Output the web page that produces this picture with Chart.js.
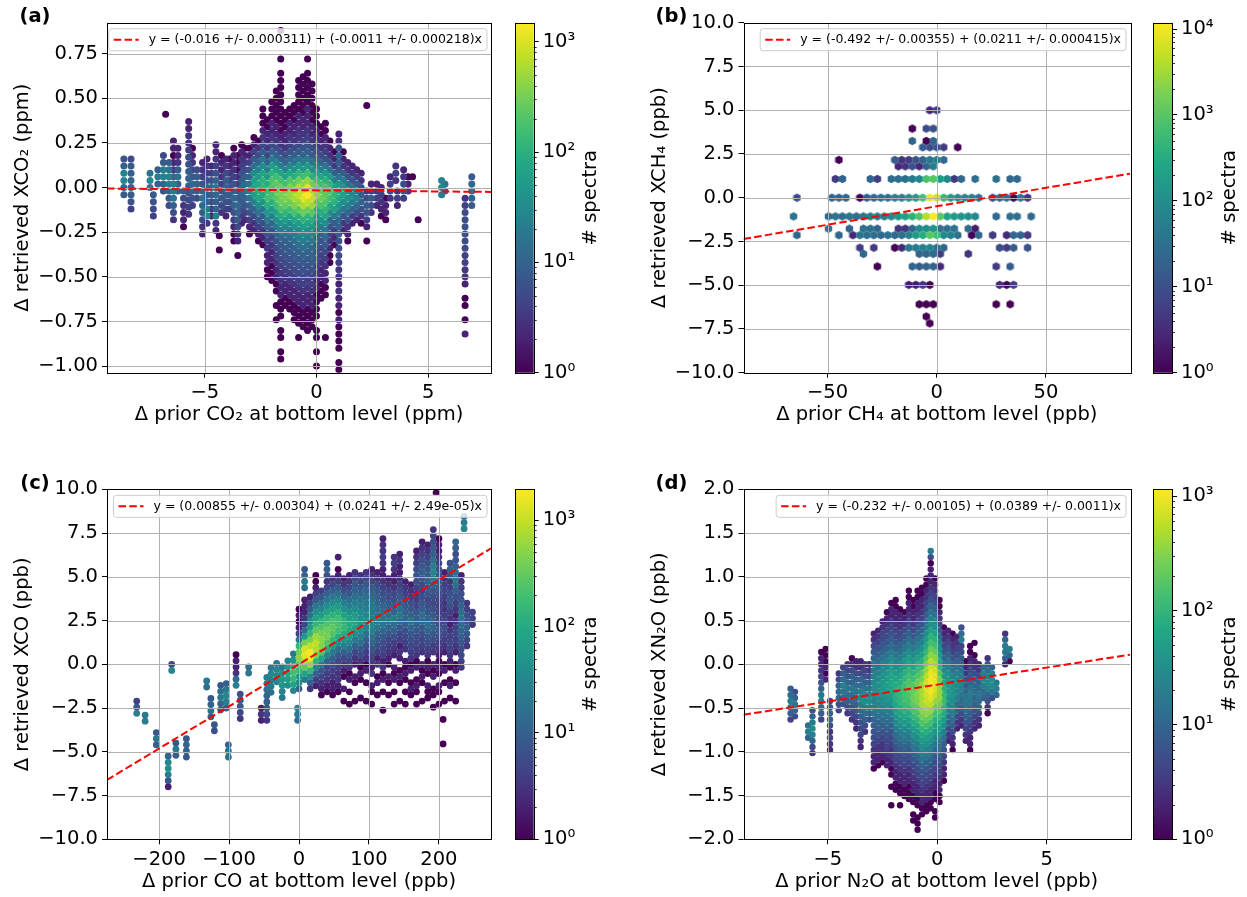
<!DOCTYPE html>
<html>
<head>
<meta charset="utf-8">
<script src="https://cdn.jsdelivr.net/npm/chart.js@4.4.0/dist/chart.umd.min.js"></script>
<style>
  body { margin: 0; background: #fff; width: 1247px; height: 897px; position: relative; overflow: hidden; }
  canvas { position: absolute; }
</style>
</head>
<body>
<script>
// ---- hexbin cells: [x, yStart, counts going up in steps] ----
const co2Step = 0.04;
const co2Columns = [
  [-8.62, -0.04, [8, 12, 30, 25, 10, 6]],
  [-8.30, -0.12, [4, 6, 8, 10, 12, 10, 8, 5]],
  [-7.45, 0.00, [20, 30, 15]],
  [-7.30, -0.16, [4, 5, 6, 8]],
  [-7.10, 0.02, [10, 20, 8]],
  [-6.85, -0.02, [6, 10, 25, 20, 8, 5]],
  [-6.75, 0.41, [1]],
  [-6.60, -0.10, [5, 8, 10, 20, 25, 15, 8]],
  [-6.40, -0.18, [3, 5, 10, 15, 20, 25, 10, 3, 2, 1, 2, 2]],
  [-6.20, -0.02, [8, 10, 15, 8, 3, 2, 2]],
  [-5.95, -0.22, [1, 2, 2, 3, 5, 8]],
  [-5.72, -0.15, [3, 4, 5, 6, 8, 10, 8, 6, 5, 4, 3, 3, 2, 2]],
  [-5.55, -0.10, [4, 6, 10, 12, 8, 5, 3, 2, 1]],
  [-5.35, -0.06, [5, 8, 10, 8, 5]],
  [-5.10, -0.26, [2, 3, 5, 8, 12, 15, 10, 6, 4, 3, 2]],
  [-4.90, -0.20, [3, 30, 20, 10, 8, 10, 6, 4, 3, 2]],
  [-4.70, -0.16, [2, 3, 5, 8, 10, 6, 4, 2]],
  [-4.50, -0.24, [2, 3, 25, 10, 8, 12, 15, 10, 6, 4, 3, 2, 2]],
  [-4.35, -0.35, [1, 0, 1]],
  [-4.25, -0.14, [3, 5, 8, 6, 4, 3, 2, 2, 1]],
  [-4.05, -0.16, [2, 4, 6, 8, 10, 8, 5, 3, 2]],
  [-3.90, -0.12, [3, 5, 8, 6, 4, 3, 2, 1]],
  [-3.70, -0.30, [1, 1, 2, 4, 6, 10, 12, 10, 6, 4, 3, 2, 2, 1]],
  [-3.52, -0.38, [1, 0, 2, 3, 5, 8, 10, 12, 8, 5, 3, 2, 1, 1, 1]],
  [-3.35, -0.20, [2, 3, 5, 8, 10, 12, 8, 6, 4, 3, 2, 1]],
  [-3.20, -0.18, [2, 4, 6, 10, 14, 12, 8, 5, 3, 2, 1]],
  [-3.00, -0.26, [1, 2, 4, 6, 10, 15, 20, 15, 10, 6, 4, 2, 1]],
  [-2.80, -0.24, [2, 3, 5, 10, 25, 50, 80, 60, 35, 15, 8, 4, 2, 1]],
  [-2.60, -0.30, [1, 2, 4, 8, 15, 35, 70, 100, 80, 50, 25, 10, 5, 3, 1]],
  [-2.40, -0.32, [1, 2, 3, 5, 8, 15, 40, 80, 130, 110, 70, 35, 15, 8, 5, 3, 2, 1, 1, 1]],
  [-2.20, -0.50, [1, 1, 2, 2, 3, 4, 6, 10, 20, 50, 100, 160, 140, 90, 45, 20, 8, 4, 3, 2, 2, 1, 1]],
  [-2.00, -0.52, [1, 1, 1, 2, 2, 3, 4, 6, 10, 20, 45, 100, 170, 200, 180, 110, 55, 20, 10, 5, 3, 2, 2, 1, 1, 1]],
  [-1.80, -0.74, [1, 0, 1, 0, 1, 1, 2, 2, 3, 4, 5, 6, 10, 18, 35, 70, 140, 220, 260, 230, 150, 70, 28, 10, 5, 3, 2, 2, 1, 1, 1, 1, 1]],
  [-1.60, -0.96, [1, 1, 0, 1, 1, 0, 1, 1, 1, 2, 2, 3, 3, 4, 5, 6, 8, 12, 20, 40, 90, 180, 280, 330, 280, 170, 70, 25, 10, 5, 3, 2, 1, 1, 1, 1, 1, 1, 1, 1, 1, 0, 1, 0, 0, 0, 1]],
  [-1.40, -0.66, [1, 1, 2, 2, 3, 4, 5, 6, 8, 10, 15, 30, 60, 120, 250, 350, 300, 150, 60, 25, 10, 5, 3, 2, 2, 1, 1, 1]],
  [-1.20, -0.68, [1, 1, 2, 2, 3, 4, 5, 6, 8, 10, 12, 20, 35, 70, 150, 300, 450, 380, 200, 80, 30, 12, 6, 4, 3, 2, 2, 1, 1]],
  [-1.00, -0.74, [1, 1, 1, 2, 2, 3, 4, 5, 6, 8, 10, 14, 20, 40, 80, 180, 350, 550, 480, 250, 100, 40, 15, 8, 5, 3, 2, 2, 1, 1, 1]],
  [-0.80, -0.84, [1, 0, 1, 1, 1, 2, 2, 3, 4, 5, 6, 8, 10, 14, 20, 30, 50, 100, 220, 450, 700, 600, 300, 120, 45, 18, 8, 5, 3, 3, 2, 2, 1, 1, 1, 1, 1]],
  [-0.60, -0.78, [1, 1, 1, 2, 2, 3, 4, 5, 6, 8, 10, 14, 20, 35, 60, 120, 280, 600, 1000, 800, 400, 150, 50, 20, 10, 6, 4, 3, 2, 2, 1, 1, 1, 1, 1, 1]],
  [-0.40, -0.80, [1, 1, 1, 1, 2, 2, 3, 4, 5, 6, 8, 10, 14, 20, 35, 60, 120, 300, 700, 1450, 1000, 450, 150, 50, 20, 10, 6, 4, 3, 2, 2, 2, 1, 1, 1, 1, 1, 0, 1]],
  [-0.20, -0.78, [1, 1, 1, 2, 2, 3, 4, 5, 6, 8, 10, 12, 18, 30, 50, 100, 220, 500, 800, 600, 280, 100, 35, 15, 8, 5, 3, 2, 2, 1, 1, 1, 1, 1, 1]],
  [0.00, -1.00, [1, 0, 1, 0, 1, 1, 0, 1, 1, 1, 1, 2, 2, 3, 4, 5, 6, 8, 10, 15, 25, 45, 90, 200, 400, 300, 150, 60, 25, 12, 6, 4, 3, 2, 1, 1, 1]],
  [0.20, -0.62, [1, 1, 1, 2, 2, 3, 4, 5, 6, 10, 20, 40, 90, 180, 300, 260, 150, 70, 25, 10, 5, 3, 2, 1, 1]],
  [0.40, -0.84, [1, 0, 0, 0, 0, 0, 1, 1, 2, 2, 3, 4, 5, 8, 12, 20, 35, 70, 130, 200, 250, 200, 110, 45, 15, 6, 4, 3, 2, 1, 1]],
  [0.60, -0.42, [1, 1, 2, 3, 4, 6, 12, 30, 80, 150, 180, 120, 50, 15, 6, 3, 2, 1]],
  [0.80, -0.32, [1, 2, 4, 8, 20, 60, 110, 120, 60, 20, 8, 3, 2, 1]],
  [1.00, -1.02, [1, 1, 0, 1, 1, 1, 1, 2, 1, 2, 2, 3, 2, 3, 3, 4, 5, 5, 6, 8, 10, 12, 20, 40, 70, 80, 45, 15, 6, 8, 10, 6, 3, 2]],
  [1.20, -0.24, [2, 3, 6, 15, 35, 60, 45, 20, 8, 3, 2, 1]],
  [1.40, -0.30, [1, 2, 3, 6, 12, 25, 40, 30, 15, 6, 3, 2]],
  [1.60, -0.20, [2, 4, 10, 20, 30, 15, 6, 3, 2]],
  [1.80, -0.18, [2, 5, 12, 25, 15, 8, 4, 2]],
  [2.00, -0.20, [1, 3, 6, 10, 8, 5, 3, 2]],
  [2.25, -0.30, [1, 0, 2, 4, 6, 8, 5, 3]],
  [2.25, 0.46, [1]],
  [2.45, -0.14, [3, 5, 8, 4, 2]],
  [2.70, -0.10, [2, 4, 3, 2]],
  [2.90, -0.16, [1, 2, 3, 4, 2]],
  [3.10, -0.18, [1, 2, 2, 1]],
  [3.30, -0.06, [3, 5, 4, 2]],
  [3.55, 0.04, [3, 4, 3]],
  [3.62, -0.10, [2, 4, 3]],
  [3.90, -0.06, [4, 8, 5, 3, 2]],
  [4.10, -0.02, [3, 2, 1]],
  [4.30, 0.06, [1]],
  [4.55, -0.18, [1]],
  [5.60, -0.04, [20, 30, 25]],
  [5.75, -0.02, [10, 15]],
  [6.65, -0.82, [2, 0, 1, 0, 1, 1, 0, 2, 3, 3, 4, 4, 5, 5, 6, 6, 5, 5, 4, 3]],
  [6.95, -0.10, [8, 10, 15, 12, 8]]
];

// CH4 cells by row: [y, xStart, counts going right in steps]
const ch4Step = 3.2;
const ch4Rows = [
  [5.0, -3.2, [3, 5]],
  [3.95, -11.2, [1, 0, 8, 10]],
  [3.24, -11.2, [20, 0, 1, 20]],
  [2.88, -6.4, [15, 8, 12, 5, 0, 1]],
  [2.16, -44.8, [1, 0, 0, 0, 0, 0, 0, 0, 15, 4, 5, 10, 20, 40, 50, 25]],
  [1.79, -17.6, [3, 4, 10, 3, 20, 50]],
  [1.07, -46.4, [5, 20, 0, 0, 0, 20, 5, 0, 30, 30, 30, 50, 80, 800, 1000, 150, 80, 4, 25, 0, 30, 0, 0, 30, 0, 25, 25]],
  [0.0, -64.0, [8, 0, 0, 0, 0, 20, 20, 20, 0, 1, 15, 25, 30, 35, 60, 60, 120, 150, 700, 9000, 6000, 500, 150, 100, 80, 60, 40, 0, 8, 25, 30, 1, 40, 4]],
  [-1.07, -65.6, [40, 0, 0, 0, 0, 25, 40, 30, 40, 30, 40, 45, 50, 60, 80, 130, 200, 400, 900, 4000, 11800, 1000, 200, 150, 120, 100, 80, 0, 0, 25, 0, 30, 30, 0, 25]],
  [-1.77, -49.6, [40, 0, 0, 20, 0, 30, 30, 20, 0, 0, 4, 4, 25, 80, 100, 110, 30, 30, 35, 0, 30, 2]],
  [-2.14, -64.0, [20, 0, 0, 0, 0, 0, 20, 0, 3, 40, 30, 30, 25, 30, 25, 30, 60, 150, 300, 1000, 600, 80, 60, 30, 0, 1, 25, 0, 5, 0, 3, 25, 20, 5]],
  [-2.86, -35.2, [5, 0, 5, 0, 0, 1, 3, 40, 50, 60, 60, 30, 20, 0, 0, 0, 0, 0, 0, 0, 8, 5, 15, 0, 10]],
  [-3.21, -33.6, [25, 0, 0, 0, 0, 0, 0, 0, 20, 20, 25, 5, 0, 0, 0, 4]],
  [-3.93, -27.2, [1, 0, 0, 0, 0, 20, 15, 20, 20, 3, 0, 0, 0, 0, 0, 0, 0, 5, 0, 15]],
  [-4.98, -12.8, [2, 2, 4, 1, 0, 0, 0, 0, 0, 0, 0, 0, 0, 3, 1, 5]],
  [-6.09, -8.0, [1, 1, 1, 0, 0, 0, 0, 0, 0, 0, 0, 1, 0, 1]],
  [-6.79, -4.8, [1]],
  [-7.18, -3.2, [1]]
];

const coStep = 0.35;
const coColumns = [
  [-232, -2.8, [25, 8, 4]],
  [-220, -3.25, [25, 20]],
  [-204, -4.6, [10, 20, 8]],
  [-187, -7.0, [2, 8, 25, 40, 30, 12]],
  [-182, -0.35, [30, 5]],
  [-176, -5.2, [10, 20, 8]],
  [-161, -5.3, [8, 10, 12, 8]],
  [-132, -1.3, [15, 20]],
  [-126, -3.0, [10, 15, 12, 8]],
  [-121, -3.8, [6, 8]],
  [-112, -2.6, [6, 12, 20, 15, 8]],
  [-104, -2.5, [8, 25, 30, 20, 10]],
  [-101, -5.3, [15, 20, 10]],
  [-90, -1.2, [25, 15, 3, 2, 2, 1]],
  [-84, -3.1, [3, 5, 8, 10, 6]],
  [-72, -0.5, [20, 15]],
  [-54, -3.2, [2, 3, 2]],
  [-46, -3.2, [3, 5, 8, 10, 12, 15, 20, 25]],
  [-40, -1.6, [15, 20, 25, 30, 20]],
  [-32, -1.0, [30, 40, 30, 20]],
  [-24, -1.9, [20, 30, 50, 60, 40, 20]],
  [-16, -1.2, [40, 70, 90, 60, 30]],
  [-8, -1.5, [30, 80, 150, 200, 120, 50, 20]],
  [-2, -3.2, [15, 20, 30]],
  [0, -1.4, [10, 30, 60, 150, 300, 500, 400, 150, 20, 4, 2, 1, 2, 1]],
  [8, -0.875, [20, 80, 300, 800, 1500, 1200, 400, 60, 15, 5, 3, 2, 2, 2, 0, 15, 20, 12, 8]],
  [16, -1.4, [3, 10, 30, 150, 600, 1500, 1900, 900, 400, 150, 60, 30, 15, 8, 4, 2]],
  [24, -1.225, [2, 4, 10, 30, 120, 400, 800, 900, 600, 300, 150, 80, 40, 20, 8, 4, 2, 1, 1]],
  [32, -1.75, [1, 2, 3, 5, 8, 20, 80, 250, 450, 500, 400, 250, 120, 60, 30, 15, 8, 4]],
  [40, -1.575, [1, 2, 3, 4, 5, 10, 30, 100, 250, 400, 350, 250, 150, 80, 40, 20, 10, 5, 3, 6, 10, 8]],
  [48, -1.75, [1, 2, 2, 3, 4, 6, 10, 20, 60, 150, 250, 300, 220, 130, 70, 35, 18, 10, 5, 3]],
  [56, -1.575, [1, 2, 3, 3, 4, 5, 8, 15, 40, 100, 180, 220, 180, 110, 60, 30, 15, 8, 4, 2, 1, 0, 2]],
  [64, -2.1, [1, 0, 2, 0, 1, 2, 3, 5, 10, 25, 50, 100, 150, 130, 80, 45, 25, 12, 6, 3, 2]],
  [72, -2.275, [1, 0, 1, 0, 2, 1, 3, 5, 8, 15, 30, 60, 90, 100, 70, 45, 25, 15, 8, 5, 3, 2]],
  [80, -2.1, [1, 0, 0, 1, 2, 0, 2, 3, 5, 10, 20, 40, 70, 80, 60, 40, 25, 15, 10, 8, 5, 3]],
  [88, -2.275, [0, 1, 0, 0, 1, 2, 1, 3, 5, 8, 15, 25, 40, 50, 45, 35, 25, 18, 12, 8, 5, 3]],
  [96, -2.1, [1, 0, 0, 1, 0, 2, 1, 3, 4, 6, 10, 15, 25, 35, 30, 25, 20, 15, 12, 8, 5, 3]],
  [104, -2.275, [1, 0, 1, 2, 0, 3, 2, 4, 5, 8, 12, 15, 25, 30, 25, 20, 18, 15, 12, 8, 5, 3, 2]],
  [112, -2.1, [0, 1, 0, 2, 1, 0, 3, 2, 4, 6, 8, 12, 18, 25, 20, 15, 12, 10, 8, 5, 3, 2]],
  [120, -2.625, [1, 0, 0, 1, 0, 2, 1, 3, 2, 4, 5, 6, 8, 12, 20, 18, 15, 12, 8, 6, 4, 3, 2, 2, 3, 4, 3, 3, 2]],
  [128, -2.1, [0, 1, 0, 1, 2, 0, 1, 2, 3, 4, 5, 8, 12, 18, 15, 10, 8, 6, 5, 3, 2]],
  [136, -2.275, [1, 0, 1, 0, 2, 1, 2, 0, 2, 3, 4, 6, 10, 15, 20, 12, 8, 6, 5, 3, 2, 2, 3, 4, 3]],
  [144, -2.1, [1, 0, 0, 1, 2, 1, 0, 2, 3, 2, 4, 5, 8, 12, 20, 15, 10, 8, 6, 4, 3, 2, 2, 3, 2]],
  [152, -2.275, [1, 0, 1, 0, 1, 2, 1, 2, 0, 3, 4, 5, 6, 10, 12, 10, 8, 6, 4, 3, 2]],
  [160, -2.1, [0, 1, 2, 1, 0, 2, 1, 3, 4, 5, 6, 8, 12, 15, 10, 8, 6, 4, 3, 2]],
  [168, -2.275, [1, 0, 1, 2, 1, 0, 2, 1, 3, 4, 5, 6, 8, 12, 10, 8, 5, 4, 3, 4, 6, 8, 6, 4, 3, 2]],
  [176, -2.1, [1, 0, 0, 1, 2, 1, 2, 0, 3, 4, 5, 6, 8, 12, 15, 10, 8, 6, 4, 5, 8, 10, 8, 6, 4, 3, 2]],
  [184, -1.925, [1, 1, 2, 0, 1, 2, 1, 3, 4, 6, 8, 12, 15, 12, 8, 6, 5, 8, 10, 12, 10, 8, 6, 4, 3, 2]],
  [192, -2.45, [1, 0, 1, 1, 0, 2, 1, 2, 0, 3, 4, 6, 8, 12, 10, 8, 6, 5, 6, 8, 12, 20, 30, 25, 15, 10, 8, 6, 5, 3]],
  [196, 9.8, [1]],
  [200, -2.275, [1, 0, 1, 2, 0, 1, 2, 1, 2, 3, 4, 6, 8, 6, 5, 4, 4, 5, 6, 8, 10, 8, 6, 4, 3, 2, 2, 1]],
  [206, -4.55, [1, 0, 0, 0, 1]],
  [208, -2.1, [1, 0, 0, 1, 0, 2, 1, 0, 2, 3, 4, 5, 6, 5, 4, 3, 3, 4, 5, 4, 3, 2]],
  [216, -1.925, [1, 0, 2, 1, 0, 1, 2, 3, 4, 5, 4, 3, 2, 3, 4, 6, 8, 6, 4, 3, 8, 10, 6]],
  [224, -2.1, [1, 0, 0, 1, 0, 2, 1, 0, 2, 3, 4, 5, 4, 3, 2, 3, 4, 6, 10, 15, 20, 15, 10, 8, 6, 10, 12]],
  [232, -0.175, [3, 4, 5, 6, 8, 10, 12, 15, 20, 15, 12, 8, 6, 4, 3, 2]],
  [236, 7.75, [30, 25, 15]],
  [240, 1.05, [3, 5, 8, 10, 8, 6, 4, 3]],
  [248, 2.275, [3, 5, 4]]
];

const n2oStep = 0.07;
const n2oColumns = [
  [-6.7, -0.63, [4, 8, 15, 20, 12, 8]],
  [-6.5, -0.595, [5, 10, 15, 8, 5]],
  [-5.9, -0.84, [10, 20, 15]],
  [-5.7, -1.015, [3, 5, 10, 20, 30, 20, 10, 6]],
  [-5.3, -0.63, [4, 8, 12, 20, 15, 10, 6, 4, 3, 2, 2, 1]],
  [-5.1, -0.175, [2, 1, 2, 1, 1, 1]],
  [-4.9, -0.98, [2, 3, 4, 3, 5, 8, 10, 6, 4]],
  [-4.5, -0.525, [4, 6, 10, 12, 8, 5, 3]],
  [-4.3, -0.455, [6, 10, 15, 20, 12, 8, 4]],
  [-4.1, -0.56, [3, 5, 8, 12, 15, 10, 6, 4, 3]],
  [-3.9, -0.63, [3, 4, 6, 10, 12, 15, 10, 8, 5, 3, 1]],
  [-3.7, -0.735, [2, 3, 4, 6, 8, 12, 15, 12, 8, 5, 3, 2]],
  [-3.5, -0.945, [2, 3, 4, 5, 6, 8, 12, 20, 25, 20, 12, 8, 5, 3, 2]],
  [-3.3, -0.77, [3, 5, 8, 12, 20, 30, 25, 15, 10, 6, 4, 3]],
  [-3.1, -0.63, [5, 10, 20, 30, 25, 15, 8, 5, 3, 2]],
  [-2.9, -1.19, [1, 2, 2, 3, 4, 5, 6, 8, 10, 14, 18, 22, 26, 28, 26, 22, 18, 14, 10, 7, 5, 3, 2]],
  [-2.7, -1.155, [1, 2, 2, 3, 4, 6, 8, 10, 14, 18, 24, 30, 34, 32, 28, 22, 16, 12, 8, 6, 4, 3, 2]],
  [-2.5, -1.12, [1, 2, 3, 3, 4, 6, 8, 12, 16, 22, 28, 36, 42, 40, 34, 26, 20, 14, 10, 7, 5, 4, 3, 2]],
  [-2.3, -1.155, [2, 2, 3, 4, 5, 6, 8, 12, 16, 22, 30, 38, 46, 50, 44, 36, 28, 20, 14, 10, 7, 5, 4, 3, 2, 1]],
  [-2.1, -1.61, [1, 0, 0, 1, 0, 1, 1, 2, 3, 3, 4, 5, 6, 8, 12, 18, 26, 36, 48, 60, 66, 60, 48, 36, 26, 18, 12, 8, 6, 4, 3, 2, 2, 1]],
  [-1.9, -1.435, [1, 1, 2, 2, 3, 4, 5, 6, 8, 12, 18, 26, 38, 52, 68, 80, 84, 76, 60, 44, 32, 22, 15, 10, 7, 5, 4, 3, 2, 2, 1, 1]],
  [-1.7, -1.61, [1, 0, 1, 1, 2, 2, 3, 4, 5, 7, 10, 14, 20, 30, 44, 62, 82, 100, 108, 96, 76, 56, 40, 28, 19, 13, 9, 6, 4, 3, 2, 2, 1]],
  [-1.5, -1.505, [1, 1, 2, 2, 3, 4, 5, 7, 10, 14, 20, 30, 45, 65, 90, 115, 135, 140, 125, 100, 75, 52, 36, 24, 16, 11, 7, 5, 3, 2, 1]],
  [-1.3, -1.54, [1, 1, 1, 2, 2, 3, 4, 5, 7, 10, 15, 22, 33, 50, 75, 105, 140, 170, 180, 165, 130, 95, 65, 44, 30, 20, 13, 9, 6, 4, 3, 2, 2, 1, 1]],
  [-1.1, -1.785, [1, 1, 0, 1, 1, 2, 2, 3, 4, 5, 7, 10, 15, 22, 33, 50, 75, 110, 155, 200, 230, 220, 180, 130, 90, 60, 40, 26, 17, 11, 7, 5, 3, 2, 2, 1, 1]],
  [-0.9, -1.89, [1, 1, 1, 0, 1, 1, 2, 2, 3, 4, 5, 7, 10, 14, 20, 30, 45, 70, 105, 150, 210, 270, 300, 280, 230, 170, 120, 80, 52, 34, 22, 14, 9, 6, 4, 3, 2, 2, 1, 1]],
  [-0.7, -1.715, [1, 1, 2, 2, 3, 4, 5, 7, 10, 14, 20, 30, 45, 70, 110, 170, 250, 340, 420, 450, 420, 350, 260, 180, 120, 80, 52, 34, 22, 14, 9, 6, 4, 3, 2, 2, 1, 1]],
  [-0.5, -1.68, [1, 1, 2, 2, 3, 4, 5, 7, 10, 15, 22, 33, 50, 80, 130, 210, 320, 460, 600, 700, 720, 650, 520, 380, 260, 170, 110, 70, 45, 28, 18, 12, 8, 5, 4, 3, 2, 1, 1]],
  [-0.3, -1.645, [1, 1, 2, 2, 3, 4, 5, 7, 10, 15, 22, 33, 50, 80, 130, 220, 360, 550, 800, 1000, 1100, 1050, 900, 700, 500, 340, 220, 140, 90, 56, 35, 22, 14, 9, 6, 4, 3, 2, 2, 2, 1, 5, 20]],
  [-0.1, -1.75, [1, 1, 0, 1, 1, 2, 2, 3, 4, 5, 7, 10, 15, 22, 33, 50, 80, 130, 220, 360, 550, 750, 850, 800, 650, 480, 330, 220, 140, 90, 56, 35, 22, 14, 9, 6, 4, 3, 2, 1]],
  [0.1, -1.575, [1, 1, 2, 2, 3, 4, 5, 7, 10, 14, 20, 30, 45, 70, 110, 170, 250, 330, 360, 320, 250, 170, 110, 70, 45, 28, 18, 11, 7, 5, 3, 2, 1, 1]],
  [0.3, -1.33, [1, 2, 2, 3, 4, 6, 8, 12, 18, 28, 45, 70, 100, 120, 110, 85, 60, 40, 26, 16, 10, 6, 4, 3, 2, 1]],
  [0.5, -0.875, [2, 3, 5, 8, 12, 18, 26, 36, 44, 46, 40, 30, 22, 15, 10, 6, 4, 3, 2]],
  [0.7, -0.98, [1, 2, 3, 5, 8, 12, 18, 25, 32, 36, 34, 28, 20, 14, 9, 6, 4, 3, 2, 1]],
  [0.9, -0.735, [2, 3, 5, 8, 12, 18, 24, 28, 26, 20, 14, 9, 6, 4, 3, 2]],
  [1.1, -0.7, [2, 3, 5, 8, 12, 16, 20, 22, 18, 14, 10, 7, 5, 4, 20, 12, 6]],
  [1.3, -0.875, [2, 3, 4, 6, 8, 12, 15, 14, 10, 7, 5, 3, 2, 1]],
  [1.5, -0.98, [1, 2, 2, 3, 4, 6, 8, 12, 16, 18, 14, 10, 7, 5, 3, 2, 1, 1]],
  [1.7, -0.735, [2, 3, 4, 6, 8, 10, 12, 10, 8, 5, 3, 2, 1, 0, 1]],
  [1.9, -0.7, [2, 3, 5, 8, 12, 15, 12, 8, 5, 3, 2]],
  [2.1, -0.385, [8, 12, 20, 25, 20, 12]],
  [2.3, -0.56, [1, 3, 6, 10, 20, 25, 20, 12, 6, 3]],
  [2.5, -0.385, [5, 15, 25, 30, 20, 10]],
  [2.7, -0.35, [10, 20, 15]],
  [3.1, 0.0, [2, 8, 15, 20, 10, 3]],
  [3.3, 0.035, [1, 10, 20]]
];

// fits [intercept, slope] and legend labels
const co2Fit = [-0.016, -0.0011];
const ch4Fit = [-0.492, 0.0211];
const coFit = [0.00855, 0.0241];
const n2oFit = [-0.232, 0.0389];
const co2Label = 'y = (-0.016 +/- 0.000311) + (-0.0011 +/- 0.000218)x';
const ch4Label = 'y = (-0.492 +/- 0.00355) + (0.0211 +/- 0.000415)x';
const coLabel = 'y = (0.00855 +/- 0.00304) + (0.0241 +/- 2.49e-05)x';
const n2oLabel = 'y = (-0.232 +/- 0.00105) + (0.0389 +/- 0.0011)x';

// tick values
const co2XTicks = [-5, 0, 5];
const co2YTicks = [-1.0, -0.75, -0.5, -0.25, 0, 0.25, 0.5, 0.75];
const ch4XTicks = [-50, 0, 50];
const ch4YTicks = [-10, -7.5, -5, -2.5, 0, 2.5, 5, 7.5, 10];
const coXTicks = [-200, -100, 0, 100, 200];
const coYTicks = [-10, -7.5, -5, -2.5, 0, 2.5, 5, 7.5, 10];
const n2oXTicks = [-5, 0, 5];
const n2oYTicks = [-2.0, -1.5, -1.0, -0.5, 0, 0.5, 1.0, 1.5, 2.0];
const cbTicks = [1, 10, 100, 1000, 10000];
const cbLabels = {1: '10\u2070', 10: '10\u00b9', 100: '10\u00b2', 1000: '10\u00b3', 10000: '10\u2074'};

Chart.defaults.font.family = "'DejaVu Sans'";
Chart.defaults.font.size = 19.5;
Chart.defaults.color = '#000';

const VIRIDIS = ['#440154', '#482475', '#414487', '#355f8d', '#2a788e', '#21918c',
                 '#22a884', '#44bf70', '#7ad151', '#bddf26', '#fde725'];
const rgbOf = h => [1, 3, 5].map(i => parseInt(h.substr(i, 2), 16));
function viridis(t) {
  t = Math.round(Math.min(1, Math.max(0, t)) * 80) / 80;
  const p = t * 10, i = Math.min(9, Math.floor(p)), f = p - i;
  const a = rgbOf(VIRIDIS[i]), b = rgbOf(VIRIDIS[i + 1]);
  return 'rgb(' + a.map((v, k) => Math.round(v + (b[k] - v) * f)).join(',') + ')';
}

const hexCache = new Map();
function hexImage(color, r) {
  const key = color + '|' + r;
  if (hexCache.has(key)) return hexCache.get(key);
  const w = Math.ceil(Math.sqrt(3) * r) + 1, h = Math.ceil(2 * r) + 1;
  const cv = document.createElement('canvas');
  cv.width = w; cv.height = h;
  const g = cv.getContext('2d');
  g.fillStyle = color;
  g.beginPath();
  for (let k = 0; k < 6; k++) {
    const ang = Math.PI / 6 + k * Math.PI / 3;
    const px = w / 2 + r * Math.cos(ang), py = h / 2 - r * Math.sin(ang);
    if (k) g.lineTo(px, py); else g.moveTo(px, py);
  }
  g.closePath();
  g.fill();
  hexCache.set(key, cv);
  return cv;
}

function cellsFromColumns(cols, step) {
  const pts = [];
  cols.forEach(([x, y0, counts]) => counts.forEach((c, i) => {
    if (c > 0) pts.push({x: x, y: y0 + i * step, c: c});
  }));
  return pts.sort((p, q) => p.c - q.c);
}
function cellsFromRows(rows, step) {
  const pts = [];
  rows.forEach(([y, x0, counts]) => counts.forEach((c, i) => {
    if (c > 0) pts.push({x: x0 + i * step, y: y, c: c});
  }));
  return pts.sort((p, q) => p.c - q.c);
}

const fmt = (v, d) => (v < 0 ? '\u2212' : '') + Math.abs(v).toFixed(d);

function mkCanvas(left, top, w, h) {
  const cv = document.createElement('canvas');
  cv.width = w; cv.height = h;
  cv.style.left = left + 'px';
  cv.style.top = top + 'px';
  document.body.appendChild(cv);
  return cv;
}

// grid over the hexes, frame, legend box and panel letter
const panelDecor = {
  id: 'panelDecor',
  afterDatasetDraw(chart, args) {
    if (args.index !== 1) return;
    const {ctx, chartArea: a, scales} = chart;
    ctx.save();
    ctx.strokeStyle = '#b0b0b0';
    ctx.lineWidth = 1;
    ctx.beginPath();
    scales.x.ticks.forEach(t => {
      const px = Math.round(scales.x.getPixelForValue(t.value)) + 0.5;
      ctx.moveTo(px, a.top); ctx.lineTo(px, a.bottom);
    });
    scales.y.ticks.forEach(t => {
      const py = Math.round(scales.y.getPixelForValue(t.value)) + 0.5;
      ctx.moveTo(a.left, py); ctx.lineTo(a.right, py);
    });
    ctx.stroke();
    ctx.restore();
  },
  afterDraw(chart, args, o) {
    const {ctx, chartArea: a} = chart;
    ctx.save();
    ctx.strokeStyle = '#000';
    ctx.lineWidth = 1;
    ctx.strokeRect(Math.round(a.left) + 0.5, Math.round(a.top) + 0.5,
                   Math.round(a.right - a.left), Math.round(a.bottom - a.top));

    ctx.font = "12.5px 'DejaVu Sans'";
    const tw = ctx.measureText(o.legend).width;
    const w = 5 + 25 + 10 + tw + 5, h = 22;
    const right = a.right - 4, top = a.top + 6, left = right - w;
    ctx.beginPath();
    if (ctx.roundRect) ctx.roundRect(left, top, w, h, 3); else ctx.rect(left, top, w, h);
    ctx.fillStyle = 'rgba(255,255,255,0.8)';
    ctx.fill();
    ctx.strokeStyle = '#cccccc';
    ctx.stroke();
    ctx.beginPath();
    ctx.setLineDash([7.5, 3.3]);
    ctx.strokeStyle = '#ff0000';
    ctx.lineWidth = 2;
    ctx.moveTo(left + 5, top + h / 2);
    ctx.lineTo(left + 30, top + h / 2);
    ctx.stroke();
    ctx.setLineDash([]);
    ctx.fillStyle = '#000';
    ctx.textAlign = 'left';
    ctx.textBaseline = 'middle';
    ctx.fillText(o.legend, left + 40, top + h / 2 + 0.5);

    ctx.font = "bold 19.5px 'DejaVu Sans'";
    ctx.textAlign = 'center';
    ctx.fillText(o.label, a.left - 72, a.top - 5.5);
    ctx.restore();
  }
};

function drawPanel(p) {
  const cv = mkCanvas(p.left, p.top, p.width, p.height);
  const logMax = Math.log10(p.vmax);
  const colour = c => viridis(Math.log10(c) / logMax);
  const fitLine = [p.xMin, p.xMax].map(x => ({x: x, y: p.fit[0] + p.fit[1] * x}));
  const cellSet = p.hex
    ? {data: p.cells, pointRadius: p.r, order: 1,
       pointStyle: ctx => (ctx.raw ? hexImage(colour(ctx.raw.c), p.r) : 'circle')}
    : {data: p.cells, pointRadius: p.r, order: 1, pointStyle: 'circle', borderWidth: 0,
       backgroundColor: ctx => (ctx.raw ? colour(ctx.raw.c) : '#000')};
  new Chart(cv, {
    type: 'scatter',
    data: {
      datasets: [
        {type: 'line', data: fitLine, borderColor: '#ff0000', borderWidth: 2,
         borderDash: [7.5, 3.3], pointRadius: 0, fill: false, order: 0},
        cellSet
      ]
    },
    options: {
      responsive: false,
      animation: false,
      events: [],
      layout: {padding: {left: 0, top: p.padTop, right: p.padRight, bottom: 0}},
      plugins: {
        legend: {display: false},
        tooltip: {enabled: false},
        panelDecor: {legend: p.legend, label: p.label}
      },
      scales: {
        x: {
          type: 'linear', min: p.xMin, max: p.xMax,
          afterBuildTicks: s => { s.ticks = p.xTicks.map(v => ({value: v})); },
          afterFit: s => { s.height = p.xAxisH; },
          ticks: {callback: v => fmt(v, p.xDec), padding: 4, maxRotation: 0, autoSkip: false},
          grid: {drawOnChartArea: false, drawTicks: true, tickLength: 5, tickColor: '#000', tickWidth: 1},
          border: {display: false},
          title: {display: true, text: p.xTitle, padding: {top: 0, bottom: p.xTitlePad}}
        },
        y: {
          type: 'linear', min: p.yMin, max: p.yMax,
          afterBuildTicks: s => { s.ticks = p.yTicks.map(v => ({value: v})); },
          afterFit: s => { s.width = p.yAxisW; },
          ticks: {callback: v => fmt(v, p.yDec), padding: 4, autoSkip: false},
          grid: {drawOnChartArea: false, drawTicks: true, tickLength: 5, tickColor: '#000', tickWidth: 1},
          border: {display: false},
          title: {display: true, text: p.yTitle, padding: {top: p.yTitlePad, bottom: 0}}
        }
      }
    },
    plugins: [panelDecor]
  });
}

function viridisGradient(chart) {
  const a = chart.chartArea;
  if (!a) return VIRIDIS[5];
  const g = chart.ctx.createLinearGradient(0, a.bottom, 0, a.top);
  VIRIDIS.forEach((c, i) => g.addColorStop(i / 10, c));
  return g;
}

const colorbarDecor = {
  id: 'colorbarDecor',
  afterDraw(chart, args, o) {
    const {ctx, chartArea: a, scales: {y}} = chart;
    ctx.save();
    ctx.strokeStyle = '#000';
    ctx.lineWidth = 0.8;
    ctx.beginPath();
    for (let d = 1; d < o.vmax; d *= 10) {
      for (let m = 2; m <= 9; m++) {
        const v = m * d;
        if (v >= o.vmax) break;
        const py = Math.round(y.getPixelForValue(v)) + 0.5;
        ctx.moveTo(a.right, py); ctx.lineTo(a.right + 3, py);
      }
    }
    ctx.stroke();
    ctx.lineWidth = 1;
    ctx.strokeRect(Math.round(a.left) + 0.5, Math.round(a.top) + 0.5,
                   Math.round(a.right - a.left), Math.round(a.bottom - a.top));
    ctx.translate(a.right + 57.7, (a.top + a.bottom) / 2);
    ctx.rotate(-Math.PI / 2);
    ctx.font = "19.5px 'DejaVu Sans'";
    ctx.fillStyle = '#000';
    ctx.textAlign = 'center';
    ctx.textBaseline = 'middle';
    ctx.fillText('# spectra', 0, 0);
    ctx.restore();
  }
};

function drawColorbar(c) {
  const cv = mkCanvas(c.left, c.top, c.width, c.height);
  new Chart(cv, {
    type: 'bar',
    data: {
      labels: ['n'],
      datasets: [{data: [[1, c.vmax]], backgroundColor: ctx => viridisGradient(ctx.chart),
                  borderWidth: 0, barPercentage: 1, categoryPercentage: 1}]
    },
    options: {
      responsive: false,
      animation: false,
      events: [],
      layout: {padding: {left: c.padLeft, top: c.padTop, right: 0, bottom: c.padBottom}},
      plugins: {legend: {display: false}, tooltip: {enabled: false}, colorbarDecor: {vmax: c.vmax}},
      scales: {
        x: {display: false},
        y: {
          type: 'logarithmic', position: 'right', min: 1, max: c.vmax,
          afterBuildTicks: s => { s.ticks = cbTicks.filter(v => v <= c.vmax).map(v => ({value: v})); },
          afterFit: s => { s.width = c.axisW; },
          ticks: {callback: v => cbLabels[v] || '', padding: 4, autoSkip: false},
          grid: {drawOnChartArea: false, drawTicks: true, tickLength: 5, tickColor: '#000', tickWidth: 1},
          border: {display: false}
        }
      }
    },
    plugins: [colorbarDecor]
  });
}

const topRow = {top: 0, height: 445, padTop: 22.7, xAxisH: 72.3, xTitlePad: 18.3};
const botRow = {top: 467, height: 430, padTop: 22.3, xAxisH: 57.7, xTitlePad: 3.6};
const leftCol = {left: 0, width: 505, yAxisW: 107, padRight: 14, yTitlePad: 11.3};
const rightCol = {left: 637, width: 503, yAxisW: 106.5, padRight: 10, yTitlePad: 10.8};

drawPanel(Object.assign({}, topRow, leftCol, {
  cells: cellsFromColumns(co2Columns, co2Step), r: 3.5, hex: false, vmax: 1487,
  xMin: -9.375, xMax: 7.81, yMin: -1.037, yMax: 0.923, xTicks: co2XTicks, yTicks: co2YTicks,
  xDec: 0, yDec: 2, fit: co2Fit, legend: co2Label, label: '(a)',
  xTitle: '\u0394 prior CO\u2082 at bottom level (ppm)', yTitle: '\u0394 retrieved XCO\u2082 (ppm)'
}));
drawPanel(Object.assign({}, topRow, rightCol, {
  cells: cellsFromRows(ch4Rows, ch4Step), r: 4.3, hex: true, vmax: 11870,
  xMin: -88.5, xMax: 88.5, yMin: -10, yMax: 10, xTicks: ch4XTicks, yTicks: ch4YTicks,
  xDec: 0, yDec: 1, fit: ch4Fit, legend: ch4Label, label: '(b)',
  xTitle: '\u0394 prior CH\u2084 at bottom level (ppb)', yTitle: '\u0394 retrieved XCH\u2084 (ppb)'
}));
drawPanel(Object.assign({}, botRow, leftCol, {
  cells: cellsFromColumns(coColumns, coStep), r: 3.4, hex: false, vmax: 1950,
  xMin: -274.5, xMax: 274.5, yMin: -10, yMax: 10, xTicks: coXTicks, yTicks: coYTicks,
  xDec: 0, yDec: 1, fit: coFit, legend: coLabel, label: '(c)',
  xTitle: '\u0394 prior CO at bottom level (ppb)', yTitle: '\u0394 retrieved XCO (ppb)'
}));
drawPanel(Object.assign({}, botRow, rightCol, {
  cells: cellsFromColumns(n2oColumns, n2oStep), r: 3.2, hex: false, vmax: 1145,
  xMin: -8.85, xMax: 8.8, yMin: -2, yMax: 2, xTicks: n2oXTicks, yTicks: n2oYTicks,
  xDec: 0, yDec: 1, fit: n2oFit, legend: n2oLabel, label: '(d)',
  xTitle: '\u0394 prior N\u2082O at bottom level (ppb)', yTitle: '\u0394 retrieved XN\u2082O (ppb)'
}));

drawColorbar({left: 505, top: 0, width: 132, height: 445, padLeft: 10, padTop: 22.7, padBottom: 72.3, axisW: 103.3, vmax: 1487});
drawColorbar({left: 1140, top: 0, width: 107, height: 445, padLeft: 13.3, padTop: 22.7, padBottom: 72.3, axisW: 75, vmax: 11870});
drawColorbar({left: 505, top: 467, width: 132, height: 430, padLeft: 10, padTop: 22.3, padBottom: 57.7, axisW: 103.3, vmax: 1950});
drawColorbar({left: 1140, top: 467, width: 107, height: 430, padLeft: 13.3, padTop: 22.3, padBottom: 57.7, axisW: 75, vmax: 1145});
</script>
</body>
</html>
